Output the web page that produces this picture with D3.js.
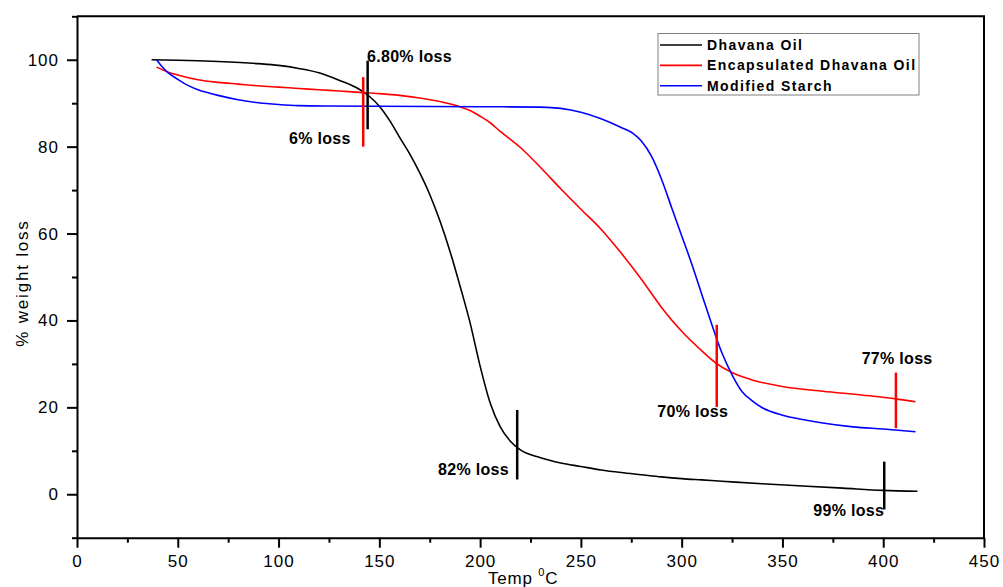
<!DOCTYPE html>
<html lang="en">
<head>
<meta charset="UTF-8">
<title>TGA curves</title>
<script src="https://cdn.jsdelivr.net/npm/d3@7"></script>
<style>
    body { margin: 0; background: #fff; }
    svg { font-family: "Liberation Sans", Arial, sans-serif; }
    .tick text { font-size: 17px; letter-spacing: 1px; fill: #000; }
    .tick line, .domain { stroke: #000; stroke-width: 2px; }
    .note { font-size: 16px; font-weight: bold; letter-spacing: 0.3px; }
    .legend text { font-size: 14px; font-weight: bold; letter-spacing: 1.4px; }
</style>
</head>
<body>
<div id="chart"></div>
<script>
// temperature (°C) and weight (%)
const dhavanaT = [37, 50, 70, 90, 100, 110, 120, 130, 140, 145, 150, 155, 160, 165, 170, 175, 180, 185, 190, 195, 200, 205, 210, 215, 220, 230, 240, 250, 260, 270, 280, 290, 300, 310, 320, 340, 360, 380, 400, 417];
const dhavanaW = [100, 99.9, 99.6, 99.1, 98.7, 98.0, 97.0, 95.3, 93.2, 91.6, 89.3, 86.1, 82.2, 78.4, 74, 69, 63, 56, 48, 39.5, 29.5, 21, 15.5, 12.2, 10.2, 8.4, 7.2, 6.4, 5.6, 5.0, 4.5, 4.0, 3.6, 3.3, 3.0, 2.4, 1.9, 1.4, 0.9, 0.7];

const encapT = [39.5, 45, 50, 60, 70, 80, 90, 100, 110, 120, 130, 140, 150, 160, 170, 180, 190, 195, 200, 205, 210, 220, 230, 240, 250, 260, 270, 280, 290, 300, 310, 317, 325, 335, 350, 370, 390, 407, 416];
const encapW = [98.3, 97.2, 96.5, 95.4, 94.8, 94.4, 94.0, 93.7, 93.4, 93.1, 92.8, 92.5, 92.2, 91.8, 91.2, 90.4, 89.2, 88.3, 87, 85.5, 83.5, 79.8, 75.2, 70.3, 65.6, 61, 55.5, 49.5, 43, 37.5, 33, 30.2, 28, 26.3, 24.8, 23.7, 22.8, 21.9, 21.3];

const starchT = [39.5, 42, 45, 50, 55, 60, 65, 70, 80, 90, 100, 110, 125, 150, 200, 230, 240, 250, 260, 270, 276, 280, 285, 290, 295, 300, 305, 310, 315, 320, 325, 330, 335, 340, 350, 360, 370, 385, 400, 416];
const starchW = [100, 98.5, 97.1, 95.5, 94.1, 93.1, 92.4, 91.8, 90.8, 90.1, 89.7, 89.45, 89.35, 89.3, 89.2, 89.1, 88.8, 87.9, 86.4, 84.4, 83, 81.3, 77.8, 72.5, 66, 59.5, 53, 46, 39, 32.5, 27.5, 23.6, 21.5, 19.9, 18.2, 17.2, 16.4, 15.5, 15, 14.4];

const seriesNames = ["Dhavana Oil", "Encapsulated Dhavana Oil", "Modified Starch"];
const seriesColors = ["#000000", "#ff0000", "#0000ff"];

// vertical marker lines: temperature, weight from / to
const markerT = [142, 144.2, 218.4, 317.4, 406.3, 400.5];
const markerW1 = [96, 99.8, 19.4, 39, 28, 7.5];
const markerW2 = [80, 84, 3.4, 20.1, 15.2, -3.5];
const markerColor = ["#ff0000", "#000000", "#000000", "#ff0000", "#ff0000", "#000000"];

// loss notes: text, anchor temperature / weight, text-anchor
const noteText = ["6% loss", "6.80% loss", "82% loss", "70% loss", "77% loss", "99% loss"];
const noteT = [135.8, 143.9, 214.3, 287.9, 389.3, 400.5];
const noteW = [80.7, 99.4, 4.4, 17.8, 30, -5];
const noteAnchor = ["end", "start", "end", "start", "start", "end"];

const xTicks = [0, 50, 100, 150, 200, 250, 300, 350, 400, 450];
const yTicks = [0, 20, 40, 60, 80, 100];

/*------------------- layout --------------------*/
const width = 1003, height = 587;
const plotLeft = 77, plotRight = 984, plotTop = 16.3, plotBottom = 537.7;

const svg = d3.select("#chart").append("svg")
    .attr("width", width)
    .attr("height", height);

const x = d3.scaleLinear().domain([0, 450]).range([plotLeft, plotRight]);
const y = d3.scaleLinear().domain([-10, 110]).range([plotBottom, plotTop]);

// minor ticks first, then major axes on top
svg.append("g")
    .attr("transform", `translate(0,${plotBottom})`)
    .call(d3.axisBottom(x).tickValues(d3.range(25, 450, 50)).tickSize(5).tickFormat(""))
    .select(".domain").remove();
svg.append("g")
    .attr("transform", `translate(${plotLeft},0)`)
    .call(d3.axisLeft(y).tickValues(d3.range(-10, 111, 20)).tickSize(5).tickFormat(""))
    .select(".domain").remove();

svg.append("g")
    .attr("transform", `translate(0,${plotBottom})`)
    .call(d3.axisBottom(x).tickValues(xTicks).tickSize(10).tickPadding(7).tickSizeOuter(0));
svg.append("g")
    .attr("transform", `translate(${plotLeft},0)`)
    .call(d3.axisLeft(y).tickValues(yTicks).tickSize(10).tickPadding(8).tickSizeOuter(0));

// top and right frame
svg.append("path")
    .attr("d", `M${plotLeft},${plotTop}H${plotRight}V${plotBottom}`)
    .attr("fill", "none")
    .attr("stroke", "#000")
    .attr("stroke-width", 2);

/*------------------- curves --------------------*/
const curves = [
    dhavanaT.map((t, i) => [t, dhavanaW[i]]),
    encapT.map((t, i) => [t, encapW[i]]),
    starchT.map((t, i) => [t, starchW[i]])
];
const line = d3.line().x(d => x(d[0])).y(d => y(d[1])).curve(d3.curveMonotoneX);

svg.selectAll("path.curve")
    .data(curves)
    .enter()
    .append("path")
    .attr("class", "curve")
    .attr("d", line)
    .attr("fill", "none")
    .attr("stroke", (d, i) => seriesColors[i])
    .attr("stroke-width", 1.6);

/*------------------- markers and notes --------------------*/
svg.selectAll("line.marker")
    .data(markerT)
    .enter()
    .append("line")
    .attr("class", "marker")
    .attr("x1", d => x(d))
    .attr("x2", d => x(d))
    .attr("y1", (d, i) => y(markerW1[i]))
    .attr("y2", (d, i) => y(markerW2[i]))
    .attr("stroke", (d, i) => markerColor[i])
    .attr("stroke-width", 2.5);

svg.selectAll("text.note")
    .data(noteText)
    .enter()
    .append("text")
    .attr("class", "note")
    .attr("x", (d, i) => x(noteT[i]))
    .attr("y", (d, i) => y(noteW[i]))
    .attr("text-anchor", (d, i) => noteAnchor[i])
    .text(d => d);

/*------------------- legend --------------------*/
const legend = svg.append("g").attr("class", "legend");
legend.append("rect")
    .attr("x", 658).attr("y", 33.5)
    .attr("width", 261).attr("height", 61.5)
    .attr("fill", "#fff")
    .attr("stroke", "#808080")
    .attr("stroke-width", 1);

seriesNames.forEach((name, i) => {
    const cy = 45 + i * 20.4;
    legend.append("line")
        .attr("x1", 660).attr("x2", 702)
        .attr("y1", cy).attr("y2", cy)
        .attr("stroke", seriesColors[i])
        .attr("stroke-width", 1.6);
    legend.append("text")
        .attr("x", 707).attr("y", cy + 5)
        .text(name);
});

/*------------------- axis titles --------------------*/
const xTitle = svg.append("text")
    .attr("x", 488).attr("y", 584)
    .style("font-size", "17px")
    .style("letter-spacing", "0.8px");
xTitle.append("tspan").text("Temp ");
xTitle.append("tspan").attr("dy", -8).style("font-size", "11px").text("0");
xTitle.append("tspan").attr("dy", 8).text("C");

svg.append("text")
    .attr("transform", "translate(28,283) rotate(-90)")
    .attr("text-anchor", "middle")
    .style("font-size", "17px")
    .style("letter-spacing", "1.8px")
    .text("%  weight loss");
</script>
</body>
</html>
